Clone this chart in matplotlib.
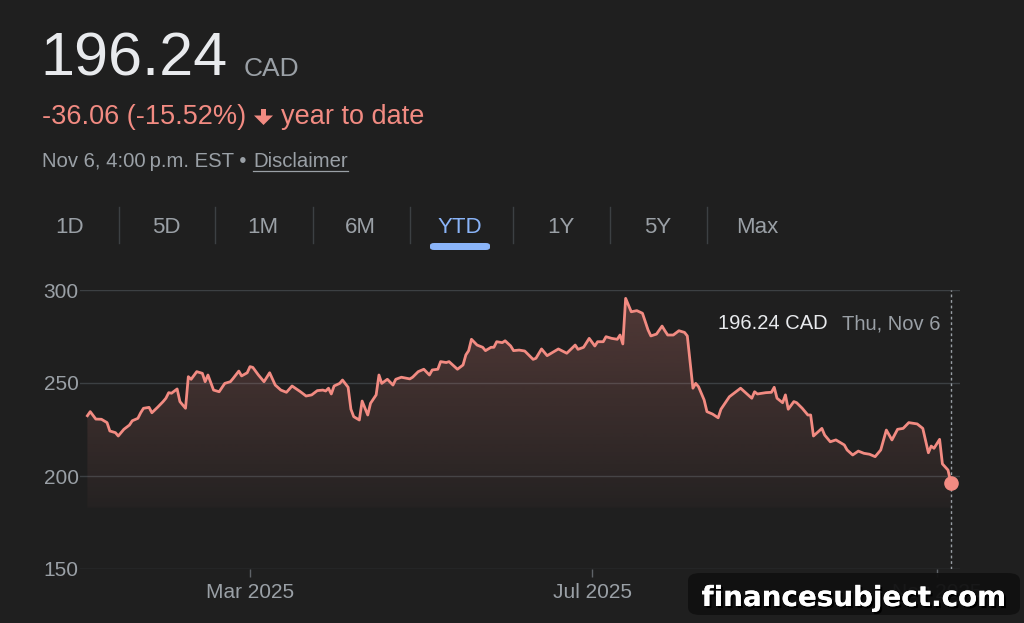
import matplotlib
matplotlib.use("Agg")
import matplotlib.pyplot as plt
import matplotlib.dates as mdates
import matplotlib.patheffects as pe
from matplotlib.patches import FancyBboxPatch, Polygon
from matplotlib.lines import Line2D
import numpy as np
import pandas as pd

# ---------------- data ----------------
dates = [
    "2025-01-02", "2025-01-03", "2025-01-05", "2025-01-07", "2025-01-09", "2025-01-10",
    "2025-01-12", "2025-01-13", "2025-01-15", "2025-01-17", "2025-01-18", "2025-01-20",
    "2025-01-21", "2025-01-22", "2025-01-24", "2025-01-25", "2025-01-27", "2025-01-29",
    "2025-01-30", "2025-01-31", "2025-02-01", "2025-02-03", "2025-02-04", "2025-02-06",
    "2025-02-07", "2025-02-08", "2025-02-10", "2025-02-12", "2025-02-13", "2025-02-14",
    "2025-02-16", "2025-02-18", "2025-02-20", "2025-02-22", "2025-02-23", "2025-02-25",
    "2025-02-26", "2025-02-28", "2025-03-01", "2025-03-02", "2025-03-04", "2025-03-06",
    "2025-03-08", "2025-03-10", "2025-03-12", "2025-03-14", "2025-03-16", "2025-03-19",
    "2025-03-21", "2025-03-23", "2025-03-25", "2025-03-27", "2025-03-28", "2025-03-29",
    "2025-03-30", "2025-03-31", "2025-04-02", "2025-04-03", "2025-04-05", "2025-04-06",
    "2025-04-07", "2025-04-09", "2025-04-10", "2025-04-12", "2025-04-13", "2025-04-15",
    "2025-04-16", "2025-04-17", "2025-04-19", "2025-04-21", "2025-04-22", "2025-04-24",
    "2025-04-27", "2025-04-28", "2025-04-30", "2025-05-02", "2025-05-04", "2025-05-05",
    "2025-05-07", "2025-05-08", "2025-05-10", "2025-05-11", "2025-05-14", "2025-05-16",
    "2025-05-17", "2025-05-18", "2025-05-19", "2025-05-21", "2025-05-23", "2025-05-24",
    "2025-05-26", "2025-05-27", "2025-05-28", "2025-05-30", "2025-05-31", "2025-06-02",
    "2025-06-03", "2025-06-05", "2025-06-07", "2025-06-10", "2025-06-11", "2025-06-13",
    "2025-06-15", "2025-06-19", "2025-06-22", "2025-06-25", "2025-06-26", "2025-06-28",
    "2025-06-30", "2025-07-02", "2025-07-03", "2025-07-05", "2025-07-06", "2025-07-08",
    "2025-07-10", "2025-07-11", "2025-07-12", "2025-07-13", "2025-07-15", "2025-07-17",
    "2025-07-19", "2025-07-21", "2025-07-22", "2025-07-24", "2025-07-26", "2025-07-27",
    "2025-07-28", "2025-07-30", "2025-08-01", "2025-08-03", "2025-08-04", "2025-08-06",
    "2025-08-07", "2025-08-08", "2025-08-10", "2025-08-11", "2025-08-13", "2025-08-15",
    "2025-08-16", "2025-08-19", "2025-08-23", "2025-08-25", "2025-08-27", "2025-08-28",
    "2025-08-29", "2025-09-01", "2025-09-03", "2025-09-04", "2025-09-05", "2025-09-07",
    "2025-09-08", "2025-09-09", "2025-09-11", "2025-09-12", "2025-09-14", "2025-09-16",
    "2025-09-17", "2025-09-18", "2025-09-21", "2025-09-22", "2025-09-24", "2025-09-26",
    "2025-09-29", "2025-09-30", "2025-10-02", "2025-10-04", "2025-10-06", "2025-10-08",
    "2025-10-10", "2025-10-12", "2025-10-14", "2025-10-16", "2025-10-18", "2025-10-20",
    "2025-10-22", "2025-10-25", "2025-10-27", "2025-10-29", "2025-10-30", "2025-10-31",
    "2025-11-02", "2025-11-03", "2025-11-05", "2025-11-06",
]
prices = [
    232.4, 234.6, 230.6, 230.5, 228.7, 224.2,
    223.3, 221.5, 225.1, 227.4, 229.7, 231.0,
    234.0, 236.4, 236.9, 234.0, 236.9, 240.0,
    241.8, 244.8, 244.5, 246.8, 240.0, 236.4,
    253.4, 252.0, 256.1, 255.2, 250.7, 254.3,
    246.2, 245.3, 249.8, 250.7, 252.5, 256.4,
    253.8, 255.5, 258.8, 258.4, 254.3, 250.7,
    255.5, 248.9, 246.2, 245.0, 248.4, 245.3,
    243.0, 243.6, 245.9, 246.2, 245.7, 247.2,
    244.1, 248.4, 249.8, 251.6, 247.7, 235.9,
    231.9, 230.1, 240.3, 232.8, 239.1, 243.6,
    254.3, 249.8, 252.0, 248.9, 252.0, 253.1,
    252.2, 253.1, 256.1, 257.4, 254.3, 257.0,
    257.4, 261.5, 261.0, 261.5, 257.4, 259.7,
    265.1, 267.4, 273.5, 270.4, 269.2, 267.4,
    269.2, 269.2, 272.2, 271.7, 272.7, 269.9,
    267.4, 267.7, 267.2, 262.7, 263.3, 268.3,
    264.7, 268.3, 266.0, 270.4, 268.1, 269.2,
    274.0, 269.9, 272.2, 272.2, 274.9, 274.0,
    273.5, 275.8, 271.0, 295.5, 288.3, 288.9,
    287.5, 278.5, 275.3, 276.3, 280.6, 278.1,
    275.8, 275.8, 278.1, 277.2, 275.3, 247.2,
    249.8, 248.0, 240.9, 234.6, 233.3, 231.3,
    235.9, 242.6, 247.2, 244.5, 241.8, 245.3,
    244.1, 244.8, 245.0, 247.7, 241.8, 239.4,
    243.6, 235.9, 240.0, 239.4, 236.4, 232.8,
    232.8, 221.5, 225.6, 222.0, 218.4, 219.4,
    216.7, 214.0, 211.3, 213.4, 212.2, 211.7,
    210.4, 214.0, 224.7, 219.4, 225.1, 225.6,
    228.7, 228.0, 225.6, 212.5, 216.1, 214.9,
    219.7, 206.5, 203.2, 196.24,
]
y_ticks = [150, 200, 250, 300]
x_tick_dates = ["2025-03-01", "2025-07-01", "2025-11-01"]
x_tick_labels = ["Mar 2025", "Jul 2025", "Nov 2025"]
tabs = ["1D", "5D", "1M", "6M", "YTD", "1Y", "5Y", "Max"]
last_price = "196.24"
currency = "CAD"
change_text = "-36.06 (-15.52%)"
period_text = "year to date"
time_text = "Nov 6, 4:00\u2009p.m. EST \u2022 "
disclaimer = "Disclaimer"
tooltip_price = "196.24 CAD"
tooltip_date = "Thu, Nov 6"
watermark = "financesubject.com"

# ---------------- style ----------------
W, H = 1024, 623
BG = "#1f1f1f"
LINE = "#f28b82"
GRAY = "#9aa0a6"
WHITE = "#e8eaed"
BLUE = "#8ab4f8"
GRID = "#3c4043"
FONT = ["Liberation Sans", "DejaVu Sans"]

plt.rcParams["font.family"] = FONT

fig = plt.figure(figsize=(W / 100, H / 100), dpi=100, facecolor=BG)


def fx(x):
    return x / W


def fy(y):
    return 1 - y / H


# ---------------- header ----------------
fig.text(fx(40), fy(76), last_price, fontsize=44, color=WHITE, va="baseline", ha="left")
fig.text(fx(244), fy(76), currency, fontsize=19, color=GRAY, va="baseline", ha="left")
fig.text(fx(42), fy(124), change_text, fontsize=19.5, color=LINE, va="baseline", ha="left")
# down arrow icon
arrow = [(261, 109), (266, 109), (266, 115.5), (273, 115.5), (263.5, 125),
         (254, 115.5), (261, 115.5)]
fig.patches.append(Polygon([(fx(a), fy(b)) for a, b in arrow], closed=True,
                           transform=fig.transFigure, facecolor=LINE, edgecolor="none"))
fig.text(fx(281), fy(124), period_text, fontsize=19.5, color=LINE, va="baseline", ha="left")
fig.text(fx(42), fy(167), time_text, fontsize=14.6, color=GRAY, va="baseline", ha="left")
fig.text(fx(253), fy(167), disclaimer, fontsize=14.6, color=GRAY, va="baseline", ha="left")
fig.lines.append(Line2D([fx(253), fx(348)], [fy(171), fy(171)], transform=fig.transFigure,
                        color=GRAY, lw=0.9))

# ---------------- tabs ----------------
tab_centers = [70, 166, 263, 360, 460, 561, 658, 757]
for name, cx in zip(tabs, tab_centers):
    fig.text(fx(cx), fy(233), name, fontsize=16, color=BLUE if name == "YTD" else GRAY,
             va="baseline", ha="center")
for sx in [118.5, 215, 312.5, 409.5, 513, 610, 707]:
    fig.lines.append(Line2D([fx(sx), fx(sx)], [fy(207), fy(243)], transform=fig.transFigure,
                            color="#3c4043", lw=1.0))
fig.patches.append(FancyBboxPatch((fx(430), fy(250)), fx(60), (250 - 243) / H,
                                  boxstyle="round,pad=0,rounding_size=0.004",
                                  transform=fig.transFigure, facecolor=BLUE, edgecolor="none"))

# ---------------- chart ----------------
x = mdates.date2num(pd.to_datetime(dates))
y = np.array(prices)

ax = fig.add_axes([fx(80), fy(569), fx(960) - fx(80), (569 - 290) / H])
ax.set_facecolor(BG)

mar1 = mdates.date2num(pd.Timestamp("2025-03-01"))
px_per_day = (592 - 250) / 122.0
xlim = (mar1 - 170 / px_per_day, mar1 + 710 / px_per_day)

# gradient fill under the line
fill_floor = 183
poly = ax.fill_between(x, y, fill_floor, facecolor="none", edgecolor="none")
grad = np.linspace(0.03, 0.25, 256).reshape(-1, 1)
rgba = np.zeros((256, 1, 4))
rgba[..., 0] = 242 / 255
rgba[..., 1] = 139 / 255
rgba[..., 2] = 130 / 255
rgba[..., 3] = grad
img = ax.imshow(rgba, extent=[x[0], x[-1], fill_floor, 300], origin="lower",
                aspect="auto", zorder=1, interpolation="bilinear")
clip = poly.get_paths()[0]
img.set_clip_path(clip, transform=ax.transData)
ax.set_xlim(*xlim)
ax.set_ylim(150, 300)

ax.plot(x, y, color=LINE, lw=2.0, zorder=3, solid_joinstyle="round")

# cursor line and end dot
ax.axvline(x[-1], color=GRAY, lw=1.0, ls=(0, (2, 2)), zorder=2)
ax.plot([x[-1]], [y[-1]], "o", color=LINE, markersize=9.5, zorder=4, clip_on=False)

# grid and ticks
ax.set_yticks(y_ticks)
ax.set_yticklabels([str(v) for v in y_ticks])
ax.yaxis.grid(True, color=GRID, lw=1.0, zorder=0)
ax.tick_params(axis="y", length=0, pad=1, labelsize=15, labelcolor=GRAY)
ax.set_xticks(mdates.date2num(pd.to_datetime(x_tick_dates)))
ax.set_xticklabels(x_tick_labels)
ax.tick_params(axis="x", length=6, width=1, color="#5f6368", pad=4, labelsize=15,
               labelcolor=GRAY, direction="out")
for s in ax.spines.values():
    s.set_visible(False)
ax.set_axisbelow(True)

# tooltip text
fig.text(fx(718), fy(329), tooltip_price, fontsize=14.5, color=WHITE, va="baseline", ha="left")
fig.text(fx(940), fy(329), tooltip_date, fontsize=14.5, color=GRAY, va="baseline", ha="right")

# ---------------- watermark ----------------
fig.patches.append(FancyBboxPatch((fx(688), fy(615)), fx(332), (615 - 573) / H,
                                  boxstyle="round,pad=0,rounding_size=0.012",
                                  transform=fig.transFigure, facecolor="#111111",
                                  edgecolor="none", alpha=0.95, zorder=5))
wm = fig.text(fx(854), fy(606), watermark, fontsize=20, color="white", fontweight="bold",
              family="DejaVu Sans", va="baseline", ha="center", zorder=6)
wm.set_path_effects([pe.withSimplePatchShadow(offset=(1.5, -1.5), shadow_rgbFace="black",
                                              alpha=1.0), pe.Normal()])

fig.savefig("out.png", dpi=100, facecolor=BG)
